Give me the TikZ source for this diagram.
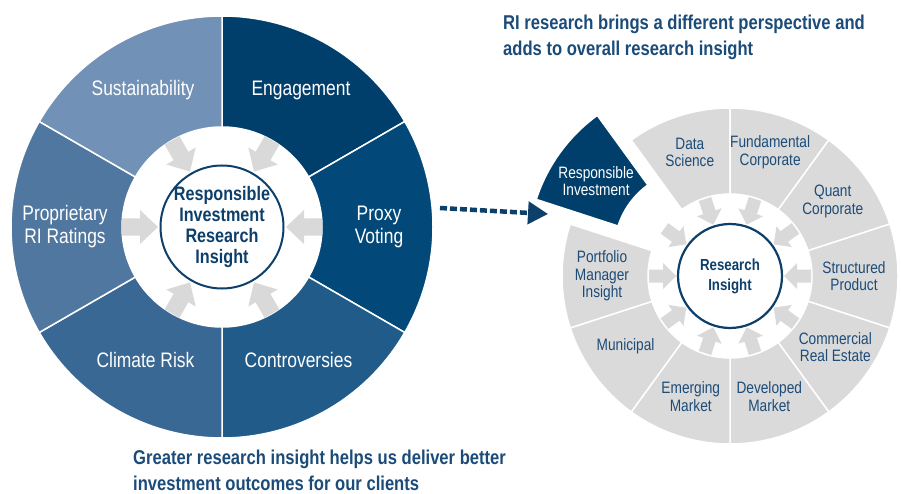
\documentclass[tikz,border=0pt]{standalone}
\usepackage{fontspec}
\setmainfont{Liberation Sans}[FakeStretch=0.83]
\usepackage{tikz}
\usetikzlibrary{calc}
\usetikzlibrary{arrows.meta}
\definecolor{cengage}{HTML}{003E6B}
\definecolor{cproxy}{HTML}{02497A}
\definecolor{ccontrov}{HTML}{215B89}
\definecolor{cclimate}{HTML}{3A6894}
\definecolor{cpropri}{HTML}{50779F}
\definecolor{csustain}{HTML}{7291B6}
\definecolor{cnavy}{HTML}{0D3F6B}
\definecolor{csect}{HTML}{DADADA}
\definecolor{carrow}{HTML}{D9D9D9}
\definecolor{ctext}{HTML}{1D4C78}
\definecolor{ctitle}{HTML}{1B4B78}
\tikzset{
	segline/.style={
		draw=white,
		line width=1.5pt},
	inarrow/.style={fill=carrow},
	wlabel/.style={
		text=white,
		align=center,
		font=\fontsize{21}{23}\selectfont},
	glabel/.style={
		text=ctext,
		align=center,
		font=\fontsize{16.5}{17.5}\selectfont},
	lcorering/.style={
		circle,
		draw=cnavy,
		line width=2pt,
		fill=white,
		minimum size=123pt,
		inner sep=0pt},
	lcoretext/.style={
		text=cnavy,
		align=center,
		inner sep=0pt,
		font=\bfseries\fontsize{19.5}{21}\selectfont},
	rcore/.style={
		circle,
		draw=cnavy,
		line width=2.2pt,
		fill=white,
		minimum size=104pt,
		inner sep=0pt,
		text=cnavy,
		align=center,
		font=\bfseries\fontsize{16}{20}\selectfont},
	headline/.style={
		text=ctitle,
		align=left,
		inner sep=0pt,
		anchor=north west,
		font=\bfseries\fontsize{20}{26}\selectfont},
	dasharrow/.style={
		draw=cnavy,
		line width=4.5pt,
		dash pattern=on 7pt off 3pt,
		-{Triangle[length=20pt, width=22pt]}}
}
% ring segment: centre, start angle, end angle, inner radius, outer radius, colour
\newcommand{\ringseg}[6]{%
	\filldraw[segline, fill=#6, shift={(#1)}] (#2:#4) -- (#2:#5)
		arc[start angle=#2, end angle=#3, radius=#5] -- (#3:#4)
		arc[start angle=#3, end angle=#2, radius=#4] -- cycle;}
% block arrows pointing to the centre
\newcommand{\bigarrow}[2]{%
	\fill[inarrow, shift={(#1)}, rotate=#2] (100,8.5) -- (82,8.5) -- (82,17)
		-- (64,0) -- (82,-17) -- (82,-8.5) -- (100,-8.5) -- cycle;}
\newcommand{\smallarrow}[2]{%
	\fill[inarrow, shift={(#1)}, rotate=#2] (81,6.5) -- (67,6.5) -- (67,13)
		-- (54,0) -- (67,-13) -- (67,-6.5) -- (81,-6.5) -- cycle;}

\begin{document}
\begin{tikzpicture}[x=1pt, y=1pt]
	\useasboundingbox (0,0) rectangle (901,-494);
	\coordinate (lw) at (222,-227);
	\coordinate (rw) at (730,-276);
	\coordinate (rwpop) at ($(rw)+(144:42)$);

	% left wheel
	\ringseg{lw}{30}{90}{100}{211}{cengage}
	\ringseg{lw}{-30}{30}{100}{211}{cproxy}
	\ringseg{lw}{-90}{-30}{100}{211}{ccontrov}
	\ringseg{lw}{210}{270}{100}{211}{cclimate}
	\ringseg{lw}{150}{210}{100}{211}{cpropri}
	\ringseg{lw}{90}{150}{100}{211}{csustain}
	\bigarrow{lw}{0}
	\bigarrow{lw}{60}
	\bigarrow{lw}{120}
	\bigarrow{lw}{180}
	\bigarrow{lw}{240}
	\bigarrow{lw}{300}
	\node[lcorering] (lcore) at (lw) {};
	\node[lcoretext] (lcoretext) at (lcore) {Responsible\\Investment\\Research\\Insight};
	\node[wlabel] (sustain) at ($(lw)+(120:158)$) {Sustainability};
	\node[wlabel] (engage) at ($(lw)+(60:158)$) {Engagement};
	\node[wlabel] (proxy) at ($(lw)+(0:157)$) {Proxy\\Voting};
	\node[wlabel] (controv) at ($(lw)+(-60:153)$) {Controversies};
	\node[wlabel] (climate) at ($(lw)+(240:153)$) {Climate Risk};
	\node[wlabel] (propri) at ($(lw)+(180:157)$) {Proprietary\\RI Ratings};

	% right wheel
	\ringseg{rw}{90}{126}{82}{168}{csect}
	\ringseg{rw}{54}{90}{82}{168}{csect}
	\ringseg{rw}{18}{54}{82}{168}{csect}
	\ringseg{rw}{-18}{18}{82}{168}{csect}
	\ringseg{rw}{-54}{-18}{82}{168}{csect}
	\ringseg{rw}{-90}{-54}{82}{168}{csect}
	\ringseg{rw}{234}{270}{82}{168}{csect}
	\ringseg{rw}{198}{234}{82}{168}{csect}
	\ringseg{rw}{162}{198}{82}{168}{csect}
	\ringseg{rwpop}{126}{162}{82}{168}{cengage}
	\smallarrow{rw}{108}
	\smallarrow{rw}{72}
	\smallarrow{rw}{36}
	\smallarrow{rw}{0}
	\smallarrow{rw}{-36}
	\smallarrow{rw}{-72}
	\smallarrow{rw}{252}
	\smallarrow{rw}{216}
	\smallarrow{rw}{180}
	\smallarrow{rw}{144}
	\node[rcore] (rcore) at (rw) {Research\\Insight};
	\node[glabel] (datasci) at ($(rw)+(108:130)$) {Data\\Science};
	\node[glabel] (fundcorp) at ($(rw)+(72:130)$) {Fundamental\\Corporate};
	\node[glabel] (quantcorp) at ($(rw)+(36:127)$) {Quant\\Corporate};
	\node[glabel] (structprod) at ($(rw)+(0:124)$) {Structured\\Product};
	\node[glabel] (commre) at ($(rw)+(-34:127)$) {Commercial\\Real Estate};
	\node[glabel] (devmkt) at ($(rw)+(-72:127)$) {Developed\\Market};
	\node[glabel] (emgmkt) at ($(rw)+(252:127)$) {Emerging\\Market};
	\node[glabel] (muni) at ($(rw)+(214:126)$) {Municipal};
	\node[glabel] (pmi) at ($(rw)+(180:128)$) {Portfolio\\Manager\\Insight};
	\node[glabel, text=white] (respinv) at ($(rwpop)+(145:122)$) {Responsible\\Investment};

	% link between the wheels
	\coordinate (dashfrom) at (440,-208);
	\coordinate (dashto) at (548,-214);
	\draw[dasharrow] (dashfrom) -- (dashto);

	\node[headline] (toptitle) at (503,-15) {RI research brings a different perspective and\\adds to overall research insight};
	\node[headline] (bottomtitle) at (133,-450) {Greater research insight helps us deliver better\\investment outcomes for our clients};
\end{tikzpicture}
\end{document}
